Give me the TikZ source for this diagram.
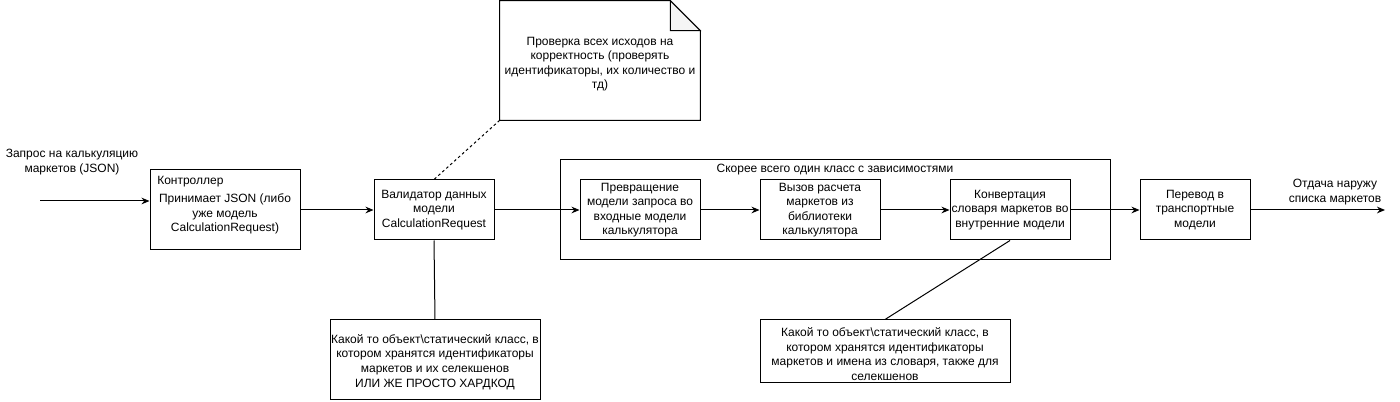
\documentclass[tikz,border=0pt]{standalone}
\usepackage{fontspec}
\setmainfont{Liberation Sans}
\usetikzlibrary{arrows.meta}
\begin{document}
\begin{tikzpicture}[x=0.75pt,y=-0.75pt,
  every node/.style={font=\fontsize{9}{10.9}\selectfont, align=center, inner sep=0pt},
  box/.style={draw, line width=0.75pt, fill=white},
  conn/.style={line width=0.75pt},
  arr/.style={line width=0.75pt, -{Stealth[length=6pt,width=5pt]}},
  dashedconn/.style={line width=0.75pt, dash pattern=on 2pt off 2pt}
]
\useasboundingbox (0,0) rectangle (1400,402);

% container
\node[box, minimum width=412.5pt, minimum height=75pt] (cont) at (835,210) {};
\node (contl) at (835,170) {Скорее всего один класс с зависимостями};

% controller
\node[box, minimum width=112.5pt, minimum height=60pt] (ctrl) at (225,210) {};
\node (ctrlt) at (225,214) {Принимает JSON (либо\\уже модель\\CalculationRequest)};
\node[anchor=west] (ctrlh) at (157,182) {Контроллер};

% validator
\node[box, minimum width=90pt, minimum height=45pt] (val) at (434,210) {Валидатор данных\\модели\\CalculationRequest};

% inner boxes
\node[box, minimum width=90pt, minimum height=45pt] (b1) at (640,210) {Превращение\\модели запроса во\\входные модели\\калькулятора};
\node[box, minimum width=90pt, minimum height=45pt] (b2) at (820,210) {Вызов расчета\\маркетов из\\библиотеки\\калькулятора};
\node[box, minimum width=90pt, minimum height=45pt] (b3) at (1010,210) {Конвертация\\словаря маркетов во\\внутренние модели};

% transport
\node[box, minimum width=82.5pt, minimum height=45pt] (tr) at (1195,210) {Перевод в\\транспортные\\модели};

% note (paper)
\node[minimum width=150pt, minimum height=89.25pt] (note) at (600,60.5) {};
\draw[line width=0.75pt, fill=white] (note.south west) -- (note.north west) -- ([xshift=-22.5pt]note.north east) -- ([yshift=-22.5pt]note.north east) -- (note.south east) -- cycle;
\draw[line width=0.75pt, fill=gray!8] ([xshift=-22.5pt]note.north east) -- ([xshift=-22.5pt,yshift=-22.5pt]note.north east) -- ([yshift=-22.5pt]note.north east) -- cycle;
\node (notet) at (600,64) {Проверка всех исходов на\\корректность (проверять\\идентификаторы, их количество и\\тд)};

% bottom notes
\node[box, minimum width=157.5pt, minimum height=60pt] (n1) at (435,360) {};
\node (n1t) at (435,362) {Какой то объект\textbackslash статический класс, в\\котором хранятся идентификаторы\\маркетов и их селекшенов\\ИЛИ ЖЕ ПРОСТО ХАРДКОД};
\node[box, minimum width=187.5pt, minimum height=47.25pt] (n2) at (885,351.5) {};
\node (n2t) at (885,354) {Какой то объект\textbackslash статический класс, в\\котором хранятся идентификаторы\\маркетов и имена из словаря, также для\\селекшенов};

% input / output
\coordinate (inS) at (40,201);
\node (inl) at (72,162) {Запрос на калькуляцию\\маркетов (JSON)};
\coordinate (outE) at (1385,210);
\node (outl) at (1335,192) {Отдача наружу\\списка маркетов};

% connectors
\draw[arr] (inS) -- (inS -| ctrl.west);
\draw[arr] (ctrl) -- (val);
\draw[arr] (val) -- (b1);
\draw[arr] (b1) -- (b2);
\draw[arr] (b2) -- (b3);
\draw[arr] (b3) -- (tr);
\draw[arr] (tr) -- (outE);
\draw[dashedconn] (note.south west) -- (val.north);
\draw[conn] (val.south) -- (n1.north);
\draw[conn] (b3.south) -- (n2.north);
\end{tikzpicture}
\end{document}
